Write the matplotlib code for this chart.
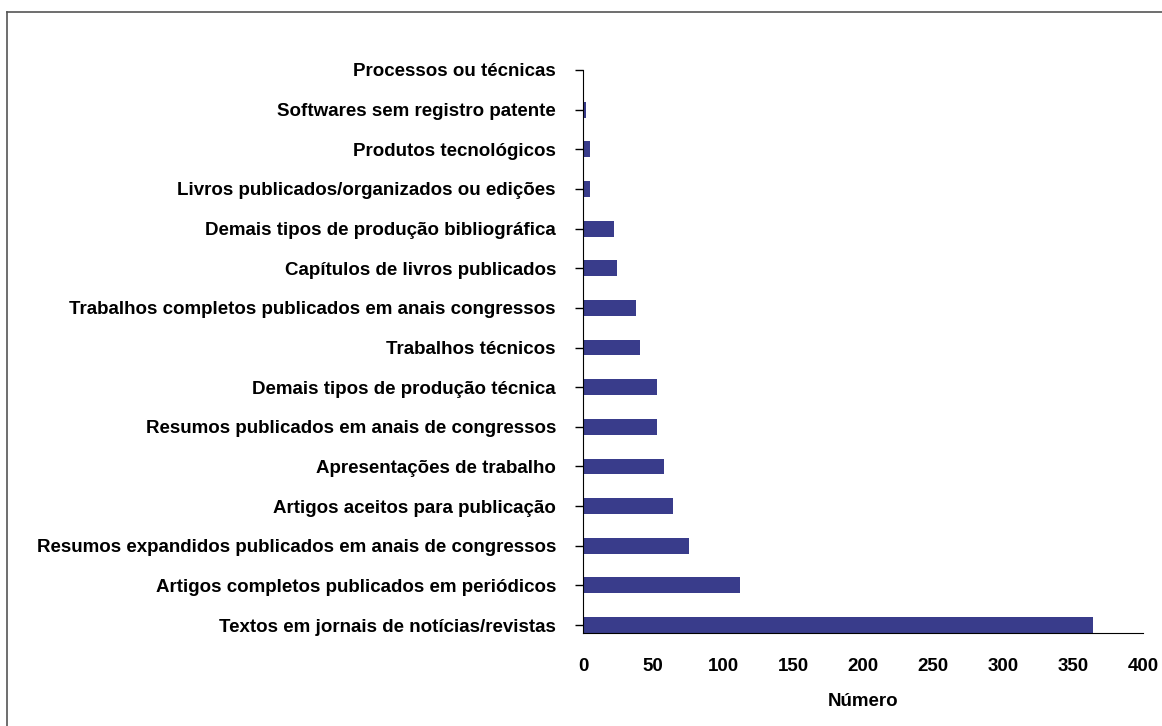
import matplotlib.pyplot as plt
from matplotlib.lines import Line2D

plt.rcParams['font.family'] = ['Liberation Sans', 'DejaVu Sans']

# categories from bottom to top
categorias = [
    'Textos em jornais de notícias/revistas',
    'Artigos completos publicados em periódicos',
    'Resumos expandidos publicados em anais de congressos',
    'Artigos aceitos para publicação',
    'Apresentações de trabalho',
    'Resumos publicados em anais de congressos',
    'Demais tipos de produção técnica',
    'Trabalhos técnicos',
    'Trabalhos completos publicados em anais congressos',
    'Capítulos de livros publicados',
    'Demais tipos de produção bibliográfica',
    'Livros publicados/organizados ou edições',
    'Produtos tecnológicos',
    'Softwares sem registro patente',
    'Processos ou técnicas',
]
valores = [364, 112, 76, 64, 58, 53, 53, 41, 38, 24, 22, 5, 5, 2, 0]
x_ticks = [0, 50, 100, 150, 200, 250, 300, 350, 400]

fig = plt.figure(figsize=(11.62, 7.26), dpi=100)
ax = fig.add_axes([583/1162, 1 - 633/726, 560/1162, 563/726])

pos = list(range(len(categorias)))
ax.barh(pos, valores, height=0.4, color='#393C8B')

fs = 13.5
ax.set_xlim(0, 400)
ax.set_ylim(-0.2, 14)
ax.set_xticks(x_ticks)
ax.set_yticks(pos)
ax.set_yticklabels(categorias, fontsize=fs, fontweight='bold')
for lab in ax.get_xticklabels():
    lab.set_fontsize(fs)
    lab.set_fontweight('bold')
ax.tick_params(axis='x', length=0, pad=18)
ax.tick_params(axis='y', length=6, width=1, pad=13.5)
ax.spines['top'].set_visible(False)
ax.spines['right'].set_visible(False)
ax.set_xlabel('Número', fontsize=fs, fontweight='bold', labelpad=13)

# outer frame (top and left edges visible)
fig.add_artist(Line2D([7/1162, 1], [1 - 12/726, 1 - 12/726], color='#555555', lw=1.2))
fig.add_artist(Line2D([7/1162, 7/1162], [0, 1 - 12/726], color='#555555', lw=1.2))

fig.savefig('out.png', dpi=100)
